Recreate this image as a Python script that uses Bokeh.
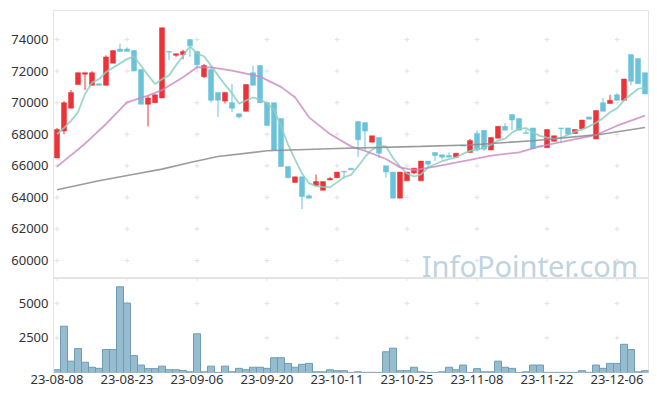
from bokeh.plotting import figure
from bokeh.layouts import column
from bokeh.models import Range1d, FixedTicker
from bokeh.core.properties import value
from bokeh.embed import file_html
from bokeh.resources import INLINE

tick_idx = [0, 10, 20, 30, 40, 50, 60, 70, 80]
tick_labels = ["23-08-08", "23-08-23", "23-09-06", "23-09-20", "23-10-11",
               "23-10-25", "23-11-08", "23-11-22", "23-12-06"]

opens = [66500, 68200, 69650, 71150, 71800, 71100, 71200, 71100, 72500, 73400,
         73400, 73300, 72100, 69900, 70000, 70300, 73250, 73000, 73050, 74000,
         73250, 71650, 72100, 70650, 70100, 70000, 69300, 69450, 71900, 72350,
         70000, 70000, 69000, 65950, 64950, 65300, 64100, 64750, 64450, 65100,
         65250, 65650, 65850, 68800, 68750, 67500, 67800, 66000, 65600, 63950,
         65050, 65550, 65050, 66300, 66850, 66700, 66650, 66550, 67300, 66850,
         68050, 68250, 67000, 67750, 68500, 69250, 69000, 68100, 68400, 67250,
         67150, 67550, 68400, 68400, 68050, 68350, 69100, 67700, 70000, 69950,
         70500, 70150, 73050, 72800, 71900]
highs = [68400, 70100, 70800, 71900, 71900, 72000, 71200, 73000, 73300, 73750,
         73500, 73300, 72100, 70450, 70500, 74750, 73250, 73100, 73350, 74000,
         73250, 72450, 72300, 70650, 70650, 71200, 69300, 71150, 72350, 72350,
         70000, 70000, 69000, 65950, 65300, 65300, 64200, 65450, 65000, 65300,
         65600, 65650, 65850, 68800, 68750, 67900, 67800, 66000, 65600, 65600,
         65600, 65850, 66300, 66300, 66850, 66700, 66850, 66800, 67300, 67700,
         68250, 68250, 67800, 68500, 68700, 69250, 69000, 68300, 68400, 67250,
         68300, 67900, 68400, 68400, 68300, 68900, 69100, 69500, 70300, 70500,
         70600, 71500, 73050, 72800, 71900]
lows = [66500, 68000, 69650, 71150, 70800, 71100, 71100, 71100, 72500, 73250,
        73250, 72000, 69900, 68500, 70000, 70300, 72700, 72900, 72750, 72900,
        72150, 71550, 70000, 69100, 69950, 69400, 69000, 69450, 71100, 70000,
        68550, 67000, 65950, 65200, 64950, 63250, 63950, 64750, 64450, 65100,
        65250, 65200, 65750, 66550, 67000, 67500, 66500, 65250, 63950, 63950,
        65050, 65450, 65050, 65900, 66300, 66400, 66550, 66550, 67250, 66850,
        66900, 66950, 67000, 67750, 68250, 68250, 68250, 68050, 67050, 67200,
        67150, 67550, 67450, 68000, 68050, 68350, 68950, 67700, 69450, 69950,
        70150, 70150, 71100, 71200, 70550]
closes = [68300, 70000, 70650, 71900, 71900, 71900, 71100, 72900, 73300, 73250,
          73250, 72000, 69900, 70300, 70500, 74750, 73200, 73100, 73250, 73600,
          72400, 72350, 70150, 70150, 70650, 69650, 69100, 71150, 71100, 70000,
          68550, 67000, 65950, 65250, 65300, 64050, 63950, 65000, 65000, 65200,
          65600, 65600, 65750, 67650, 68200, 67900, 66800, 65600, 63950, 65600,
          65600, 65850, 66300, 66100, 66650, 66550, 66550, 66800, 67250, 67600,
          67000, 67050, 67800, 68500, 68250, 68900, 68250, 68050, 67100, 67200,
          68300, 67900, 68350, 68000, 68300, 68900, 68950, 69500, 69450, 70150,
          70150, 71500, 71350, 71200, 70550]
volumes = [200, 3350, 820, 1730, 740, 380, 300, 1660, 1660, 6200,
           5020, 1220, 540, 280, 280, 460, 200, 200, 150, 50,
           2800, 50, 460, 10, 460, 50, 300, 200, 380, 380,
           300, 1070, 1070, 660, 380, 590, 660, 50, 50, 200,
           130, 130, 10, 50, 10, 10, 10, 1500, 1760, 130,
           130, 380, 50, 10, 10, 50, 380, 200, 540, 10,
           280, 50, 50, 820, 380, 300, 10, 50, 540, 540,
           10, 10, 10, 10, 10, 130, 10, 540, 300, 660,
           660, 2040, 1660, 50, 130]
ma5 = [68000, 68400, 68850, 69400, 70550, 71270, 71490, 71940, 72220, 72490,
       72760, 72940, 72340, 71740, 71190, 71490, 71730, 72370, 72960, 73580,
       73110, 72940, 72350, 71730, 71140, 70590, 69940, 70140, 70330, 70200,
       69980, 69560, 68520, 67350, 66410, 65510, 64900, 64710, 64660, 64640,
       64950, 65280, 65430, 65960, 66560, 67020, 67260, 67230, 66490, 65970,
       65510, 65320, 65460, 65890, 66100, 66290, 66430, 66530, 66760, 66950,
       67040, 67140, 67340, 67590, 67720, 68100, 68340, 68390, 68110, 67900,
       67780, 67710, 67770, 67950, 68170, 68290, 68500, 68730, 69020, 69390,
       69640, 70150, 70520, 70870, 70950]
ma20_idx = [0, 4, 7, 10, 13, 15, 18, 20, 22, 25, 29, 32, 34, 36, 39, 42, 44,
            47, 49, 51, 54, 59, 62, 66, 69, 73, 77, 80, 84]
ma20 = [65950, 67400, 68650, 70020, 70450, 70800, 71610, 72250, 72240, 72030,
        71650, 71000, 70340, 69070, 68010, 67230, 66950, 66430, 65900, 65730,
        65950, 66380, 66640, 66850, 67230, 67590, 67950, 68540, 69180]
ma60_idx = [0, 6, 11, 15, 19, 23, 30, 40, 52, 59, 68, 78, 84]
ma60 = [64480, 65050, 65470, 65790, 66210, 66590, 66950, 67100, 67230, 67320,
        67590, 68010, 68430]
price_ticks = [60000, 62000, 64000, 66000, 68000, 70000, 72000, 74000]
vol_ticks = [2500, 5000]
watermark = "InfoPointer.com"

RED = "#ec3338"
BLUE = "#6bc3d9"
FONT = "Noto Sans"

n = len(closes)
idx = list(range(n))
colors = [RED if c >= o else BLUE for o, c in zip(opens, closes)]
tops = [max(o, c) for o, c in zip(opens, closes)]
bots = [min(o, c) for o, c in zip(opens, closes)]

xr = Range1d(-0.5, n - 0.5)

p1 = figure(width=649, height=278, x_range=xr, y_range=Range1d(58860, 75840),
            output_backend="svg", toolbar_location=None, x_axis_location=None,
            min_border_left=53, min_border_right=1, min_border_top=10, min_border_bottom=0)
p2 = figure(width=649, height=108, x_range=xr, y_range=Range1d(0, 6800),
            output_backend="svg", toolbar_location=None,
            min_border_left=53, min_border_right=1, min_border_top=0, min_border_bottom=0)

for p in (p1, p2):
    p.xgrid.grid_line_color = None
    p.ygrid.grid_line_color = None
    p.outline_line_color = "#e4e4e4"
    p.background_fill_color = "white"
    p.border_fill_color = "white"
    p.yaxis.major_tick_line_color = None
    p.yaxis.minor_tick_line_color = None
    p.yaxis.major_tick_out = 0
    p.yaxis.major_tick_in = 0
    p.yaxis.axis_line_color = "#e4e4e4"
    p.yaxis.major_label_text_font = FONT
    p.yaxis.major_label_text_font_size = "13px"
    p.yaxis.major_label_text_color = "#333333"
    p.yaxis.major_label_standoff = 5

p1.yaxis.ticker = FixedTicker(ticks=price_ticks)
p2.yaxis.ticker = FixedTicker(ticks=vol_ticks)
p2.xaxis.ticker = FixedTicker(ticks=tick_idx)
p2.xaxis.major_label_overrides = dict(zip(tick_idx, tick_labels))
p2.xaxis.major_tick_line_color = None
p2.xaxis.minor_tick_line_color = None
p2.xaxis.major_tick_out = 0
p2.xaxis.major_tick_in = 0
p2.xaxis.axis_line_color = None
p2.xaxis.major_label_text_font = FONT
p2.xaxis.major_label_text_font_size = "13px"
p2.xaxis.major_label_text_color = "#333333"
p2.xaxis.major_label_standoff = 2

# grid crosses
cx = [t for t in tick_idx for _ in price_ticks]
cy = [v for _ in tick_idx for v in price_ticks]
p1.scatter(cx, cy, marker="cross", size=5, line_color="#e2e2e2", line_width=1)
vy_cross = vol_ticks + [6800]
p2.scatter([t for t in tick_idx for _ in vy_cross], [v for _ in tick_idx for v in vy_cross],
           marker="cross", size=5, line_color="#e2e2e2", line_width=1)

# watermark (right-anchored inside the price panel)
p1.text(x=[83.0], y=[59700], text=[watermark], text_font=value(FONT),
        text_font_size="29px", text_color="#c0d3df", text_baseline="alphabetic",
        text_align="right")

# candles
p1.segment(idx, highs, idx, lows, color=colors, line_width=1)
p1.vbar(x=idx, top=tops, bottom=bots, width=0.72, fill_color=colors, line_color=colors, line_width=0.5)

# moving averages
p1.line(idx, ma5, line_color="#8ccfc1", line_width=1.8, line_alpha=0.85)
p1.line(ma20_idx, ma20, line_color="#c987c4", line_width=1.8, line_alpha=0.8)
p1.line(ma60_idx, ma60, line_color="#8a8a8a", line_width=1.6, line_alpha=0.85)

# volume
p2.vbar(x=idx, top=volumes, width=1.0, fill_color="#96bdcf", line_color="#6f9cb2", line_width=1)

layout = column(p1, p2, spacing=0)
open("out.html", "w").write(file_html(layout, INLINE))
